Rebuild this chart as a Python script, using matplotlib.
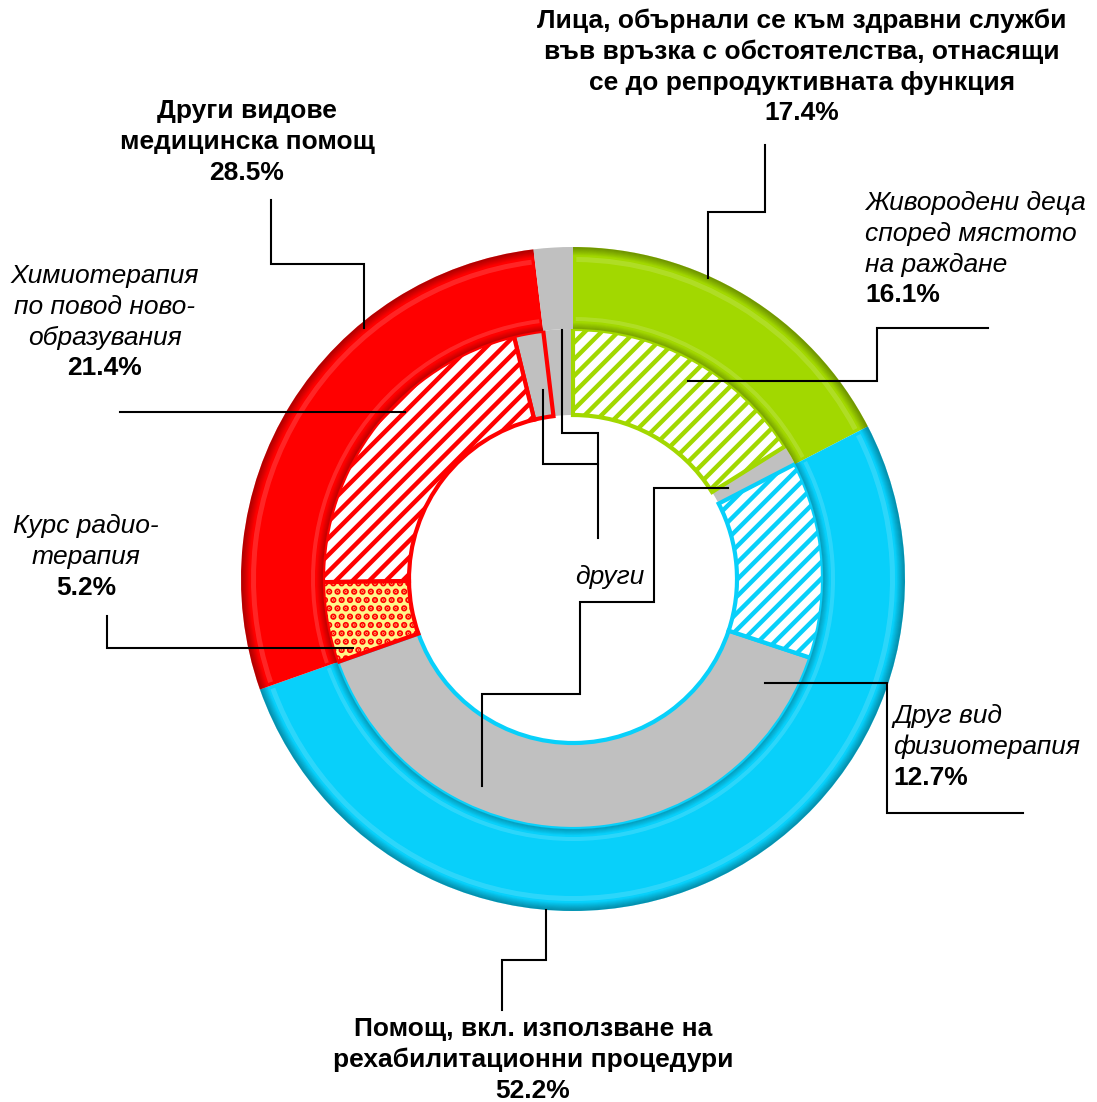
import numpy as np
import matplotlib
matplotlib.use("Agg")
import matplotlib.pyplot as plt
from matplotlib.patches import Wedge

plt.rcParams['font.family'] = ['Liberation Sans', 'DejaVu Sans']
plt.rcParams['hatch.linewidth'] = 3.2

# outer ring: main groups (clockwise from the top)
outer_names = ["Лица, обърнали се към здравни служби", "Помощ, вкл. използване на рехабилитационни процедури",
               "Други видове медицинска помощ", "други"]
outer_values = [17.4, 52.2, 28.5, 1.9]
outer_colors = ["#a2d800", "#08d0fa", "#ff0000", "#c0c0c0"]

# inner ring: sub groups
inner_names = ["Живородени деца", "други", "Друг вид физиотерапия", "други",
               "Курс радиотерапия", "Химиотерапия", "други", "други"]
inner_values = [16.1, 1.3, 12.7, 39.5, 5.2, 21.4, 1.9, 1.9]
inner_face = ["white", "#c0c0c0", "white", "#c0c0c0", "#fff58a", "white", "#c0c0c0", "#c0c0c0"]
inner_edge = ["#a2d800", "none", "#08d0fa", "#08d0fa", "#ff0000", "#ff0000", "#ff0000", "none"]
inner_hatch = ["//", None, "//", None, "..", "//", None, None]

W, H = 1097, 1102


def Y(y):
    return H - y


cx, cy = 573, Y(579)
r_out, r_mid, r_in = 332, 250, 164

fig = plt.figure(figsize=(W / 100, H / 100), dpi=100)
ax = fig.add_axes([0, 0, 1, 1])

# inner ring
wedges, _ = ax.pie(inner_values, radius=r_mid, center=(cx, cy), startangle=90,
                   counterclock=False, frame=True,
                   wedgeprops=dict(width=r_mid - r_in))
for w, fc, ec, hatch in zip(wedges, inner_face, inner_edge, inner_hatch):
    w.set_facecolor(fc)
    w.set_edgecolor(ec)
    w.set_linewidth(3 if ec != "none" else 0)
    if hatch:
        w.set_hatch(hatch)
# draw the bordered ones on top so borders are not hidden by the gray ones
order = [3, 0, 2, 6, 5, 4]
for n, i in enumerate(order):
    wedges[i].set_zorder(2 + n * 0.1)

# outer ring
owedges, _ = ax.pie(outer_values, radius=r_out, center=(cx, cy), startangle=90,
                    counterclock=False, frame=True, colors=outer_colors,
                    wedgeprops=dict(width=r_out - r_mid, linewidth=0))
for w in owedges:
    w.set_zorder(4)

# bevel shading of the outer ring
for w, col in zip(owedges, outer_colors):
    if col == "#c0c0c0":
        continue
    t1, t2 = w.theta1, w.theta2
    for k in range(8):
        a = 0.28 * (1 - k / 8)
        ax.add_patch(Wedge((cx, cy), r_out - k, t1, t2, width=1.2, facecolor="black",
                           alpha=a, linewidth=0, zorder=5))
    for k in range(6):
        a = 0.2 * (1 - k / 6)
        ax.add_patch(Wedge((cx, cy), r_mid + k + 1.2, t1, t2, width=1.2, facecolor="black",
                           alpha=a, linewidth=0, zorder=5))
    ax.add_patch(Wedge((cx, cy), r_out - 10, t1 + 0.6, t2 - 0.6, width=5, facecolor="white",
                       alpha=0.15, linewidth=0, zorder=5))
    ax.add_patch(Wedge((cx, cy), r_mid + 12, t1 + 0.6, t2 - 0.6, width=4, facecolor="white",
                       alpha=0.15, linewidth=0, zorder=5))

# leader lines (pixel coordinates, y from the top)
leaders = [
    [(765, 145), (765, 212), (708, 212), (708, 278)],
    [(988, 328), (877, 328), (877, 381), (688, 381)],
    [(271, 200), (271, 264), (364, 264), (364, 328)],
    [(120, 412), (405, 412)],
    [(107, 616), (107, 648), (353, 648)],
    [(562, 330), (562, 433), (598, 433), (598, 538)],
    [(543, 390), (543, 464), (598, 464)],
    [(728, 488), (654, 488), (654, 602), (580, 602), (580, 694), (482, 694), (482, 786)],
    [(765, 683), (887, 683), (887, 813), (1023, 813)],
    [(546, 910), (546, 960), (502, 960), (502, 1010)],
]
for pts in leaders:
    xs = [p[0] for p in pts]
    ys = [Y(p[1]) for p in pts]
    ax.plot(xs, ys, color="black", linewidth=1.5, zorder=6, solid_joinstyle="miter")

fs = 19
step = 30.8


def block(x, y0, lines, ha="center"):
    for i, (txt, style) in enumerate(lines):
        ax.text(x, Y(y0 + i * step), txt, ha=ha, va="center", fontsize=fs,
                fontweight="bold" if style == "b" else "normal",
                fontstyle="italic" if style == "i" else "normal", zorder=7)


block(802, 21, [("Лица, обърнали се към здравни служби", "b"),
                ("във връзка с обстоятелства, отнасящи", "b"),
                ("се до репродуктивната функция", "b"),
                ("17.4%", "b")])
block(865, 203, [("Живородени деца", "i"), ("според мястото", "i"),
                 ("на раждане", "i"), ("16.1%", "b")], ha="left")
block(247, 111, [("Други видове", "b"), ("медицинска помощ", "b"), ("28.5%", "b")])
block(105, 276, [("Химиотерапия", "i"), ("по повод ново-", "i"),
                 ("образувания", "i"), ("21.4%", "b")])
block(86, 526, [("Курс радио-", "i"), ("терапия", "i"), ("5.2%", "b")])
block(893, 716, [("Друг вид", "i"), ("физиотерапия", "i"), ("12.7%", "b")], ha="left")
block(533, 1029, [("Помощ, вкл. използване на", "b"),
                  ("рехабилитационни процедури", "b"), ("52.2%", "b")])
block(610, 577, [("други", "i")])

ax.set_xlim(0, W)
ax.set_ylim(0, H)
ax.set_aspect("equal")
ax.axis("off")

fig.savefig("out.png", dpi=100, facecolor="white")
